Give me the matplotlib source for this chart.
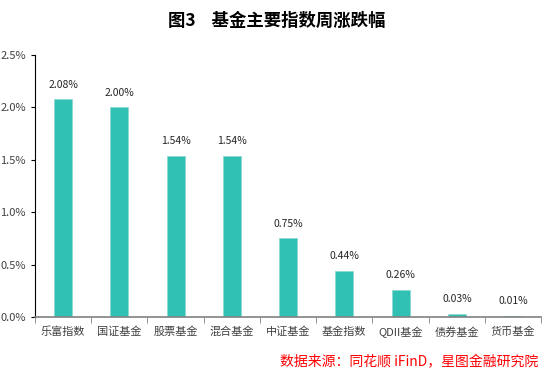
import matplotlib
matplotlib.use("Agg")
import matplotlib.pyplot as plt
from matplotlib.ticker import FuncFormatter, FixedLocator

plt.rcParams["font.family"] = ["Noto Sans CJK SC", "DejaVu Sans"]

categories = ["乐富指数", "国证基金", "股票基金", "混合基金", "中证基金",
              "基金指数", "QDII基金", "债券基金", "货币基金"]
values = [2.08, 2.00, 1.54, 1.54, 0.75, 0.44, 0.26, 0.03, 0.01]
labels = ["2.08%", "2.00%", "1.54%", "1.54%", "0.75%", "0.44%", "0.26%", "0.03%", "0.01%"]
yticks = [0.0, 0.5, 1.0, 1.5, 2.0, 2.5]

fig = plt.figure(figsize=(5.54, 3.75), dpi=100)
ax = fig.add_axes([0.063, 0.155, 0.914, 0.698])

x = list(range(len(categories)))
ax.bar(x, values, width=0.32, color="#30C1B4", edgecolor="#8ED9D2", linewidth=0.6, zorder=2)
for xi, v, lab in zip(x, values, labels):
    ax.text(xi, v + 0.09, lab, ha="center", va="bottom", fontsize=7.5, color="#262626")

ax.set_xlim(-0.5, len(categories) - 0.5)
ax.set_ylim(0, 2.5)
ax.set_yticks(yticks)
ax.yaxis.set_major_formatter(FuncFormatter(lambda v, p: f"{v:.1f}%"))
ax.set_xticks(x)
ax.set_xticklabels(categories, fontsize=8, color="#404040")
ax.xaxis.set_minor_locator(FixedLocator([i - 0.5 for i in range(len(categories) + 1)]))
ax.tick_params(axis="x", which="major", length=0, pad=7)
ax.tick_params(axis="x", which="minor", length=4, color="#808080", direction="out")
ax.tick_params(axis="y", labelsize=8, labelcolor="#404040", length=3, direction="out")

for s in ("top", "right"):
    ax.spines[s].set_visible(False)
ax.spines["left"].set_color("black")
ax.spines["left"].set_linewidth(0.8)
ax.spines["bottom"].set_color("#808080")
ax.spines["bottom"].set_linewidth(1.2)

fig.text(0.5, 0.945, "图3    基金主要指数周涨跌幅", ha="center", va="center",
         fontsize=12.5, fontweight="bold", color="black")
fig.text(0.972, 0.033, "数据来源：同花顺 iFinD，星图金融研究院", ha="right", va="center",
         fontsize=10, color="red", style="italic")

fig.savefig("out.png", dpi=100)
